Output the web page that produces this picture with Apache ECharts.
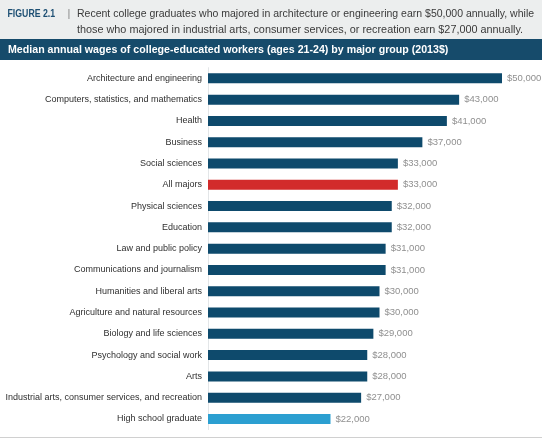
<!DOCTYPE html>
<html>
<head>
<meta charset="utf-8">
<style>
html,body{margin:0;padding:0;background:#fff;}
#c{width:542px;height:441px;}
</style>
<script src="https://cdn.jsdelivr.net/npm/echarts@6/dist/echarts.min.js"></script>
</head>
<body>
<div id="c"></div>
<script>
const categories = [
  "Architecture and engineering",
  "Computers, statistics, and mathematics",
  "Health",
  "Business",
  "Social sciences",
  "All majors",
  "Physical sciences",
  "Education",
  "Law and public policy",
  "Communications and journalism",
  "Humanities and liberal arts",
  "Agriculture and natural resources",
  "Biology and life sciences",
  "Psychology and social work",
  "Arts",
  "Industrial arts, consumer services, and recreation",
  "High school graduate"
];
const wages = [50000, 43000, 41000, 37000, 33000, 33000, 32000, 32000, 31000, 31000, 30000, 30000, 29000, 28000, 28000, 27000, 22000];
const highlight = { "All majors": "#d22b2b", "High school graduate": "#2b9fd1" };
const figureLabel = "FIGURE 2.1";
const subtitleLines = [
  "Recent college graduates who majored in architecture or engineering earn $50,000 annually, while",
  "those who majored in industrial arts, consumer services, or recreation earn $27,000 annually."
];
const bandTitle = "Median annual wages of college-educated workers (ages 21-24) by major group (2013$)";

const FONT = "'Liberation Sans', Arial, sans-serif";
const chart = echarts.init(document.getElementById('c'), null, { renderer: 'canvas' });

const barData = wages.map((v, i) => ({
  value: v,
  itemStyle: { color: highlight[categories[i]] || '#0e4a6c' }
}));

chart.setOption({
  animation: false,
  backgroundColor: '#ffffff',
  grid: { left: 208, right: 40, top: 67.7, bottom: 11.4, containLabel: false, outerBoundsMode: 'none' },
  xAxis: {
    type: 'value', min: 2000, max: 50000,
    show: false
  },
  yAxis: {
    type: 'category', data: categories, inverse: true,
    axisLine: { show: true, lineStyle: { color: '#e3e6e8', width: 1 } },
    axisTick: { show: false },
    axisLabel: { color: '#2f2f2f', fontFamily: FONT, fontSize: 9, margin: 6 }
  },
  series: [{
    type: 'bar', data: barData, barWidth: 10,
    label: {
      show: true, position: 'right', distance: 5,
      color: '#8f8f8f', fontFamily: FONT, fontSize: 9.5,
      formatter: p => '$' + p.value.toLocaleString('en-US')
    }
  }],
  graphic: [
    { type: 'rect', shape: { x: 0, y: 0, width: 542, height: 39 }, style: { fill: '#eceeee' }, z: 0 },
    { type: 'rect', shape: { x: 0, y: 39, width: 542, height: 21 }, style: { fill: '#164b6b' }, z: 0 },
    { type: 'text', x: 7.5, y: 14, scaleX: 0.76, style: { text: figureLabel, fill: '#1d4f73', font: "bold 11.5px " + FONT, textVerticalAlign: 'middle' }, z: 2 },
    { type: 'text', x: 67.5, y: 14, style: { text: '|', fill: '#888', font: "11px " + FONT, textVerticalAlign: 'middle' }, z: 2 },
    { type: 'text', x: 77, y: 14, scaleX: 0.955, style: { text: subtitleLines[0], fill: '#3a3a3a', font: "11px " + FONT, textVerticalAlign: 'middle' }, z: 2 },
    { type: 'text', x: 77, y: 29.5, scaleX: 0.985, style: { text: subtitleLines[1], fill: '#3a3a3a', font: "11px " + FONT, textVerticalAlign: 'middle' }, z: 2 },
    { type: 'text', x: 8, y: 50, scaleX: 0.967, style: { text: bandTitle, fill: '#ffffff', font: "bold 11px " + FONT, textVerticalAlign: 'middle' }, z: 2 },
    { type: 'line', shape: { x1: 0, y1: 437.5, x2: 542, y2: 437.5 }, style: { stroke: '#d0d0d0', lineWidth: 1 }, z: 2 }
  ]
});
</script>
</body>
</html>
